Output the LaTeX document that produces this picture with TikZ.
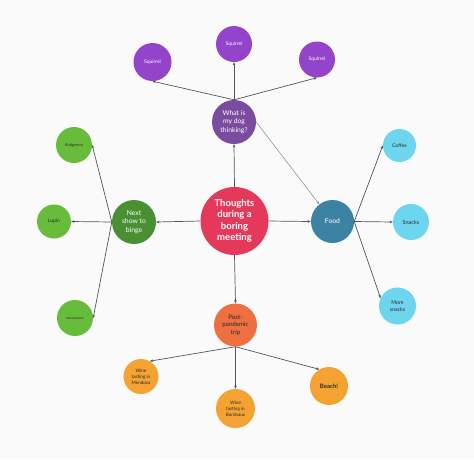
\documentclass[tikz,border=0pt]{standalone}
\usepackage{fontspec}
\setmainfont{Lato}
\usetikzlibrary{arrows.meta}
\definecolor{bg}{HTML}{FAFAFA}
\definecolor{cred}{HTML}{E5395C}
\definecolor{cfood}{HTML}{3B82A3}
\definecolor{ccyan}{HTML}{6DD5EE}
\definecolor{cdog}{HTML}{7A4B9E}
\definecolor{csq}{HTML}{9444CB}
\definecolor{cnext}{HTML}{4A9033}
\definecolor{cgreen}{HTML}{67BC3B}
\definecolor{cpost}{HTML}{EE6F3F}
\definecolor{corange}{HTML}{F4A232}
\definecolor{cline}{HTML}{505560}
\definecolor{ctext}{HTML}{2A2A2A}
\tikzset{
  bub/.style={circle, inner sep=0pt, align=center},
  conn/.style={draw=cline, line width=0.7pt, -{Stealth[length=3.2pt,width=2.6pt]}},
  fs/.style={font=\fontsize{#1}{#1*1.2}\selectfont}
}
\begin{document}
\begin{tikzpicture}[x=1pt,y=-1pt]
\fill[bg] (0,0) rectangle (474,459);
\useasboundingbox (0,0) rectangle (474,459);
% center
\node[bub, fill=cred, minimum size=68pt, text=white, font=\fontsize{9.5}{11.5}\selectfont\bfseries] (c) at (234.5,221) {Thoughts\\during a\\boring\\meeting};
% dog branch
\node[bub, fill=cdog, minimum size=44pt, text=white, font=\fontsize{6.8}{8.4}\selectfont] (dog) at (234,122) {What is\\my dog\\thinking?};
\node[bub, fill=csq, minimum size=38pt, text=white, font=\fontsize{5}{6}\selectfont] (sql) at (152.5,62) {Squirrel};
\node[bub, fill=csq, minimum size=36pt, text=white, font=\fontsize{5}{6}\selectfont] (sqt) at (234,44) {Squirrel};
\node[bub, fill=csq, minimum size=36pt, text=white, font=\fontsize{5}{6}\selectfont] (sqr) at (317,59.5) {Squirrel};
% food branch
\node[bub, fill=cfood, minimum size=43pt, text=white, font=\fontsize{6.8}{8.2}\selectfont] (food) at (332.5,221.5) {Food};
\node[bub, fill=ccyan, minimum size=33pt, text=ctext, font=\fontsize{5}{6}\selectfont] (coffee) at (399.5,145.5) {Coffee};
\node[bub, fill=ccyan, minimum size=36pt, text=ctext, font=\fontsize{5.5}{6.6}\selectfont] (snacks) at (411,222) {Snacks};
\node[bub, fill=ccyan, minimum size=37pt, text=ctext, font=\fontsize{5.3}{6.8}\selectfont] (more) at (397.5,306) {More\\snacks};
% next show branch
\node[bub, fill=cnext, minimum size=44pt, text=white, font=\fontsize{6.8}{8.4}\selectfont] (next) at (134,222) {Next\\show to\\binge};
\node[bub, fill=cgreen, minimum size=36pt, text=ctext, font=\fontsize{3.8}{4.6}\selectfont] (bridg) at (74,145) {Bridgerton};
\node[bub, fill=cgreen, minimum size=34pt, text=ctext, font=\fontsize{5}{6}\selectfont] (lupin) at (54,221.5) {Lupin};
\node[bub, fill=cgreen, minimum size=36pt, text=ctext, font=\fontsize{3}{3.6}\selectfont] (wanda) at (75,318) {WandaVision};
% post-pandemic branch
\node[bub, fill=cpost, minimum size=43pt, text=ctext, font=\fontsize{6.2}{7.6}\selectfont] (post) at (235.5,325) {Post-\\pandemic\\trip};
\node[bub, fill=corange, minimum size=35pt, text=ctext, font=\fontsize{4.6}{6}\selectfont] (mend) at (141,376.5) {Wine\\tasting in\\Mendoza};
\node[bub, fill=corange, minimum size=39pt, text=ctext, font=\fontsize{4.6}{6}\selectfont] (bord) at (235.5,408.5) {Wine\\tasting in\\Bordeaux};
\node[bub, fill=corange, minimum size=38pt, text=ctext, font=\fontsize{6}{7}\selectfont\bfseries] (beach) at (329,386) {Beach!};
% connectors
\draw[conn] (c.north) -- (dog.south);
\draw[conn] (c.west) -- (next.east);
\draw[conn] (c.east) -- (food.west);
\draw[conn] (c.south) -- (post.north);
\draw[conn] (dog.north) -- (sql.south);
\draw[conn] (dog.north) -- (sqt.south);
\draw[conn] (dog.north) -- (sqr.south);
\draw[conn, draw=cline!70, line width=0.5pt] (dog.east) -- (food);
\draw[conn] (food.east) -- (coffee.west);
\draw[conn] (food.east) -- (snacks.west);
\draw[conn] (food.east) -- (more.155);
\draw[conn] (next.west) -- (bridg.east);
\draw[conn] (next.west) -- (lupin.east);
\draw[conn] (next.west) -- (wanda.east);
\draw[conn] (post.south) -- (mend.60);
\draw[conn] (post.south) -- (bord.north);
\draw[conn] (post.south) -- (beach.120);
\end{tikzpicture}
\end{document}
